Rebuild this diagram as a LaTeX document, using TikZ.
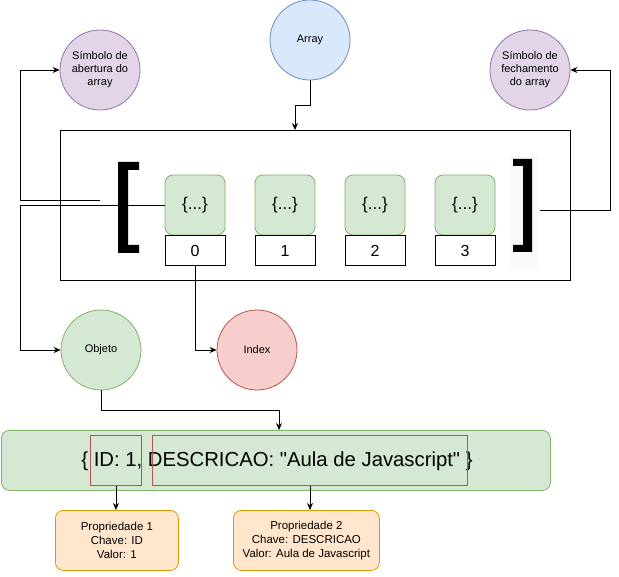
\documentclass[tikz,border=0pt]{standalone}
\usepackage{fontspec}
\setmainfont{Liberation Sans}[Ligatures=TeXOff]
\usetikzlibrary{arrows.meta}
\definecolor{gfill}{HTML}{D5E8D4}\definecolor{gline}{HTML}{82B366}
\definecolor{bfill}{HTML}{DAE8FC}\definecolor{bline}{HTML}{6C8EBF}
\definecolor{pfill}{HTML}{E1D5E7}\definecolor{pline}{HTML}{9673A6}
\definecolor{rfill}{HTML}{F8CECC}\definecolor{rline}{HTML}{B85450}
\definecolor{ofill}{HTML}{FFE6CC}\definecolor{oline}{HTML}{D79B00}
\definecolor{bracketbg}{HTML}{F9F9F9}
\tikzset{
  circ/.style={circle, draw, line width=0.8pt, minimum size=80pt, inner sep=0pt, align=center, font=\fontsize{11}{13}\selectfont},
  objbox/.style={rectangle, rounded corners=8pt, draw=gline, line width=0.8pt, fill=gfill, minimum width=60pt, minimum height=60pt, inner sep=0pt, font=\fontsize{17}{19}\selectfont},
  idxbox/.style={rectangle, draw=black, line width=0.8pt, fill=white, minimum width=60pt, minimum height=30pt, inner sep=0pt, font=\fontsize{16}{18}\selectfont},
  propbox/.style={rectangle, rounded corners=8pt, draw=oline, line width=0.8pt, fill=ofill, minimum height=60pt, inner sep=0pt, align=center, font=\fontsize{11.5}{14}\selectfont},
  redbox/.style={rectangle, draw=rline, line width=0.9pt, minimum height=50pt, inner sep=0pt},
  conn/.style={-{Stealth[length=7pt,width=6pt]}, line width=0.8pt},
  plain/.style={line width=0.8pt}
}
\begin{document}
\begin{tikzpicture}[x=1pt,y=-1pt]
\useasboundingbox (0,0) rectangle (619,577);
% circles
\node[circ, draw=pline, fill=pfill] (open) at (100,70) {Símbolo de\\abertura do\\array};
\node[circ, draw=bline, fill=bfill] (arr) at (310,40) {Array};
\node[circ, draw=pline, fill=pfill] (close) at (530,70) {Símbolo de\\fechamento\\do array};
\node[circ, draw=gline, fill=gfill] (obj) at (101,350) {Objeto};
\node[circ, draw=rline, fill=rfill] (index) at (257,350) {Index};
% big array rect
\node[draw, plain, minimum width=510pt, minimum height=150pt, inner sep=0pt, anchor=north west] (frame) at (60,130) {};
% bracket backgrounds and brackets
\fill[bracketbg] (510,157) rectangle (538,270);
\fill[black] (118,162) -- (139,162) -- (139,170) -- (128,170) -- (128,245) -- (139,245) -- (139,253) -- (118,253) -- cycle;
\fill[black] (532,159) -- (513,159) -- (513,166) -- (523,166) -- (523,245) -- (513,245) -- (513,252) -- (532,252) -- cycle;
\coordinate (lbr) at (100,200);
\coordinate (rbr) at (540,210);
% objects and indexes
\foreach \i/\x in {0/195,1/285,2/375,3/465}{
  \node[objbox] (o\i) at (\x,205) {\{...\}};
  \node[idxbox, anchor=north] (i\i) at (o\i.south) {\i};
}
% big object
\node[rectangle, rounded corners=8pt, draw=gline, line width=0.8pt, fill=gfill, minimum width=549pt, minimum height=60pt, inner sep=0pt, anchor=north west] (big) at (1,430) {};
\node[font=\fontsize{20.3}{24}\selectfont, inner sep=0pt] (bigtxt) at (277,461) {\{ ID: 1, DESCRICAO: "Aula de Javascript" \}};
\node[redbox, minimum width=51pt, anchor=north west] (r1) at (90,435) {};
\node[redbox, minimum width=315pt, anchor=north west] (r2) at (152,435) {};
% property boxes
\node[propbox, minimum width=123pt, anchor=north west] (p1) at (55,510) {Propriedade 1\\Chave: ID\\Valor: 1};
\node[propbox, minimum width=146pt, anchor=north west] (p2) at (233,510) {Propriedade 2\\Chave: DESCRICAO\\Valor: Aula de Javascript};
% connectors
\draw[conn] (arr.south) -- (310,105) -| (295,130);
\draw[conn] (lbr) -| (20,70) -- (open.west);
\draw[conn] (o0.west) -| (20,350) -- (obj.west);
\draw[conn] (rbr) -| (610,70) -- (close.east);
\draw[conn] (i0.south) |- (index.west);
\draw[conn] (obj.south) |- (279,410) -- (279,430);
\draw[conn] (r1.south) -- (p1.north -| r1.south);
\draw[conn] (r2.south -| 310,0) -- (310,510);
\end{tikzpicture}
\end{document}
